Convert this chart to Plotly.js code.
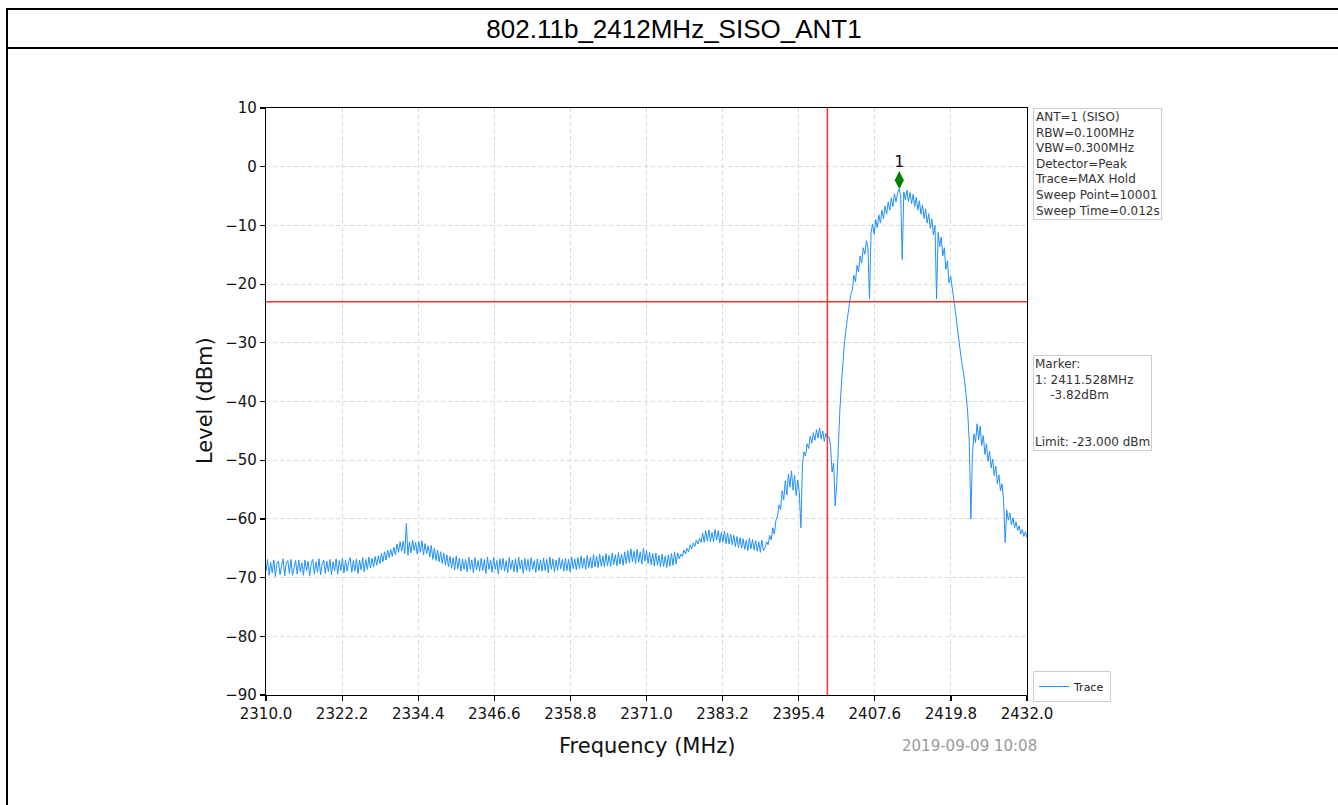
<!DOCTYPE html>
<html>
<head>
<meta charset="utf-8">
<script src="https://cdn.plot.ly/plotly-3.0.1.min.js"></script>
<style>html,body{margin:0;padding:0;background:#fff;}#chart{width:1338px;height:805px;}</style>
</head>
<body>
<div id="chart"></div>
<script>
// ---- data ----
const chartTitle = "802.11b_2412MHz_SISO_ANT1";
const freqStart = 2310.0;
const freqStop = 2432.0;
// trace levels (dBm), one reading every 0.25 MHz from 2310 to 2432
const levels = [
-68.9,-66.9,-69.6,-67.4,-69.2,-67.0,-69.8,-67.6,
-67.2,-69.5,-68.0,-66.8,-69.7,-67.5,-67.1,-69.3,
-66.9,-69.6,-68.3,-67.1,-69.4,-67.0,-69.0,-67.5,
-69.6,-67.0,-68.8,-67.2,-69.7,-67.6,-66.9,-69.4,
-67.3,-69.1,-66.8,-69.5,-67.7,-67.0,-69.3,-67.2,
-69.0,-66.9,-69.5,-67.3,-68.9,-66.8,-69.4,-67.1,
-68.8,-66.7,-69.2,-67.0,-68.9,-67.3,-66.6,-69.1,
-67.1,-68.9,-66.8,-69.3,-67.0,-68.7,-66.6,-69.0,
-66.9,-68.6,-66.5,-68.4,-66.7,-68.2,-66.4,-67.9,
-66.3,-67.6,-65.9,-67.3,-65.6,-67.0,-65.3,-66.6,
-65.2,-66.4,-64.8,-66.1,-64.3,-65.7,-63.9,-65.5,
-63.8,-65.9,-60.8,-66.2,-63.9,-65.8,-63.6,-65.4,
-64.0,-66.0,-63.8,-65.7,-63.7,-66.1,-64.2,-65.9,
-64.6,-66.5,-64.5,-66.9,-65.0,-67.1,-65.3,-67.3,
-65.6,-67.6,-65.8,-67.9,-66.1,-68.2,-66.4,-68.4,
-66.6,-68.7,-66.3,-68.5,-66.7,-68.9,-66.8,-68.6,
-66.9,-69.0,-66.5,-68.6,-67.0,-69.2,-66.6,-68.7,
-67.1,-68.9,-66.7,-68.8,-66.9,-69.3,-66.5,-68.6,
-67.0,-69.1,-66.6,-68.6,-67.1,-69.4,-66.8,-68.7,
-66.7,-68.9,-67.1,-69.2,-66.6,-68.6,-67.0,-69.0,
-66.8,-69.1,-66.5,-68.5,-67.0,-69.3,-66.7,-68.8,
-66.9,-69.0,-66.6,-68.6,-67.1,-69.1,-66.8,-68.8,
-67.0,-68.9,-66.7,-68.8,-66.9,-69.2,-66.5,-68.6,
-66.8,-69.0,-67.0,-68.8,-66.6,-68.5,-66.9,-68.9,
-66.7,-68.8,-66.9,-69.0,-66.5,-68.5,-66.8,-68.7,
-66.6,-68.5,-66.3,-68.4,-66.7,-68.6,-66.2,-68.3,
-66.5,-68.4,-66.1,-68.2,-66.4,-68.3,-66.0,-68.1,
-66.3,-68.2,-65.9,-68.0,-66.2,-68.1,-65.8,-67.8,
-66.1,-68.0,-65.7,-67.7,-66.0,-67.9,-65.6,-67.6,
-65.4,-67.5,-65.1,-67.3,-65.5,-67.6,-65.2,-67.4,
-65.6,-67.7,-65.0,-67.2,-65.4,-67.6,-65.7,-67.8,
-65.9,-68.0,-65.8,-67.9,-66.2,-68.2,-66.0,-68.1,
-66.3,-68.3,-66.1,-68.1,-65.9,-67.9,-65.6,-67.7,
-65.8,-66.8,-66.0,-66.4,-65.3,-66.0,-65.0,-65.6,
-64.4,-65.1,-64.1,-64.7,-63.6,-64.3,-63.3,-64.0,
-62.4,-64.0,-62.0,-63.8,-61.9,-63.9,-62.3,-63.9,
-61.8,-63.6,-62.0,-64.1,-62.3,-63.9,-62.1,-64.2,
-62.4,-64.3,-62.6,-64.4,-62.8,-64.7,-63.0,-64.9,
-63.2,-65.0,-63.4,-65.2,-63.6,-65.4,-63.3,-65.1,
-63.5,-65.3,-63.7,-65.5,-63.9,-65.7,-63.6,-65.4,
-64.9,-63.9,-64.4,-62.8,-63.6,-61.5,-62.6,-60.2,
-59.5,-57.6,-58.4,-55.2,-56.8,-53.5,-55.9,-52.4,
-54.6,-51.8,-55.1,-52.6,-56.0,-53.4,-55.5,-61.5,
-50.8,-48.6,-49.3,-47.2,-48.0,-45.9,-47.1,-45.3,
-46.6,-44.8,-46.2,-44.5,-46.4,-45.0,-46.8,-45.4,
-46.3,-46.0,-47.5,-52.0,-50.5,-57.8,-54.0,-47.0,
-41.5,-37.0,-33.0,-29.8,-27.5,-25.0,-23.6,-21.8,
-21.0,-18.5,-19.6,-16.8,-17.9,-15.2,-16.4,-13.8,
-14.9,-12.6,-13.8,-22.5,-11.2,-9.8,-11.5,-9.0,
-10.4,-8.2,-9.6,-7.4,-8.9,-6.7,-8.1,-6.0,
-7.4,-5.3,-6.8,-4.6,-6.0,-4.5,-3.82,-5.0,
-15.8,-4.3,-5.6,-4.0,-5.9,-4.4,-6.3,-4.7,
-6.8,-5.2,-7.4,-5.8,-8.1,-6.5,-8.8,-7.2,
-9.6,-8.0,-10.5,-8.9,-11.6,-10.0,-22.5,-11.2,
-13.6,-12.0,-15.2,-13.8,-17.5,-16.0,-19.8,-18.6,
-21.0,-22.5,-24.5,-27.0,-29.0,-31.0,-33.0,-34.5,
-36.5,-39.0,-42.0,-47.0,-60.0,-49.0,-45.5,-47.0,
-43.8,-46.5,-44.2,-47.5,-45.8,-49.0,-47.2,-50.2,
-48.5,-51.3,-49.8,-52.6,-51.0,-54.0,-52.5,-55.2,
-54.0,-57.0,-64.0,-58.5,-60.2,-59.0,-61.0,-59.8,
-61.5,-60.5,-62.0,-61.2,-62.6,-61.8,-63.0,-62.2,
-63.2
];
const xTickVals = [2310.0, 2322.2, 2334.4, 2346.6, 2358.8, 2371.0, 2383.2, 2395.4, 2407.6, 2419.8, 2432.0];
const xTickText = ["2310.0","2322.2","2334.4","2346.6","2358.8","2371.0","2383.2","2395.4","2407.6","2419.8","2432.0"];
const yTickVals = [10, 0, -10, -20, -30, -40, -50, -60, -70, -80, -90];
const limitLevel = -23.0;
const bandEdgeFreq = 2400.0;
const markerFreq = [2411.528];
const markerPlotLevel = [-2.3];
const markerLabel = ["1"];
const settingsLines = ["ANT=1 (SISO)", "RBW=0.100MHz", "VBW=0.300MHz", "Detector=Peak", "Trace=MAX Hold", "Sweep Point=10001", "Sweep Time=0.012s"];
const markerLines = ["Marker:", "1: 2411.528MHz", "\u00a0\u00a0\u00a0\u00a0-3.82dBm", "", "", "Limit: -23.000 dBm"];
const dateText = "2019-09-09 10:08";
const xTitle = "Frequency (MHz)";
const yTitle = "Level (dBm)";
const traceName = "Trace";

// ---- build ----
const W = 1338, H = 805;
const px = v => v / W;
const py = v => 1 - v / H;
const step = (freqStop - freqStart) / (levels.length - 1);
const freqs = levels.map((_, i) => freqStart + i * step);

const fontMain = "DejaVu Sans, Liberation Sans, sans-serif";

const traces = [
  {
    type: "scatter", mode: "lines", name: traceName,
    x: freqs, y: levels,
    line: {color: "#1E90FF", width: 1},
    hoverinfo: "x+y"
  },
  {
    type: "scatter", mode: "markers+text", showlegend: false,
    x: markerFreq, y: markerPlotLevel, text: markerLabel,
    textposition: "top center",
    textfont: {family: fontMain, size: 16, color: "#111"},
    marker: {symbol: "diamond-tall", size: 13, color: "#008000"},
    cliponaxis: false
  }
];

const layout = {
  width: W, height: H,
  margin: {l: 0, r: 0, t: 0, b: 0},
  paper_bgcolor: "#ffffff", plot_bgcolor: "#ffffff",
  title: {
    text: chartTitle,
    font: {family: "Liberation Sans, Arial, sans-serif", size: 26, color: "#000"},
    x: px(674), xref: "paper", xanchor: "center",
    y: py(29), yref: "container", yanchor: "middle"
  },
  showlegend: true,
  legend: {
    x: px(1033), xanchor: "left", y: py(671), yanchor: "top",
    bgcolor: "#ffffff", bordercolor: "#cccccc", borderwidth: 1,
    font: {family: fontMain, size: 11, color: "#222"},
    itemwidth: 30
  },
  xaxis: {
    domain: [px(266), px(1027)], range: [freqStart, freqStop],
    tickmode: "array", tickvals: xTickVals, ticktext: xTickText,
    showline: true, mirror: true, linecolor: "#000", linewidth: 1.2,
    ticks: "outside", ticklen: 5, tickcolor: "#000", tickwidth: 1.2,
    showgrid: true, gridcolor: "#d0d0d0", gridwidth: 0.8, griddash: "4px,3px",
    zeroline: false,
    tickfont: {family: fontMain, size: 15, color: "#111"}
  },
  yaxis: {
    domain: [1 - 695 / H, 1 - 108 / H], range: [-90, 10],
    tickmode: "array", tickvals: yTickVals,
    showline: true, mirror: true, linecolor: "#000", linewidth: 1.2,
    ticks: "outside", ticklen: 5, tickcolor: "#000", tickwidth: 1.2,
    showgrid: true, gridcolor: "#d0d0d0", gridwidth: 0.8, griddash: "4px,3px",
    zeroline: false,
    tickfont: {family: fontMain, size: 15, color: "#111"}
  },
  shapes: [
    // page frame
    {type: "line", xref: "paper", yref: "paper", x0: px(7), x1: px(7), y0: 0, y1: py(8), line: {color: "#000", width: 2}},
    {type: "line", xref: "paper", yref: "paper", x0: px(7), x1: 1, y0: py(9), y1: py(9), line: {color: "#000", width: 2}},
    {type: "line", xref: "paper", yref: "paper", x0: px(7), x1: 1, y0: py(48), y1: py(48), line: {color: "#000", width: 2}},
    // limit and band edge
    {type: "line", xref: "x domain", yref: "y", x0: 0, x1: 1, y0: limitLevel, y1: limitLevel, line: {color: "#ff3030", width: 1.5}},
    {type: "line", xref: "x", yref: "y domain", x0: bandEdgeFreq, x1: bandEdgeFreq, y0: 0, y1: 1, line: {color: "#ff3030", width: 1.5}}
  ],
  annotations: [
    {
      text: settingsLines.join("<br>"), showarrow: false, align: "left",
      xref: "paper", yref: "paper", x: px(1033), xanchor: "left", y: py(108), yanchor: "top",
      font: {family: fontMain, size: 12, color: "#333"},
      bgcolor: "#ffffff", bordercolor: "#cccccc", borderwidth: 1, borderpad: 1
    },
    {
      text: markerLines.join("<br>"), showarrow: false, align: "left",
      xref: "paper", yref: "paper", x: px(1033), xanchor: "left", y: py(355), yanchor: "top",
      font: {family: fontMain, size: 12, color: "#333"},
      bgcolor: "#ffffff", bordercolor: "#cccccc", borderwidth: 1, borderpad: 1
    },
    {
      text: dateText, showarrow: false,
      xref: "paper", yref: "paper", x: px(969), xanchor: "center", y: py(746), yanchor: "middle",
      font: {family: fontMain, size: 15, color: "#999999"}
    },
    {
      text: xTitle, showarrow: false,
      xref: "paper", yref: "paper", x: px(647), xanchor: "center", y: py(746), yanchor: "middle",
      font: {family: fontMain, size: 21, color: "#111"}
    },
    {
      text: yTitle, showarrow: false, textangle: -90,
      xref: "paper", yref: "paper", x: px(205), xanchor: "center", y: py(401), yanchor: "middle",
      font: {family: fontMain, size: 21, color: "#111"}
    }
  ]
};

Plotly.newPlot("chart", traces, layout, {displayModeBar: false, staticPlot: true});
</script>
</body>
</html>
